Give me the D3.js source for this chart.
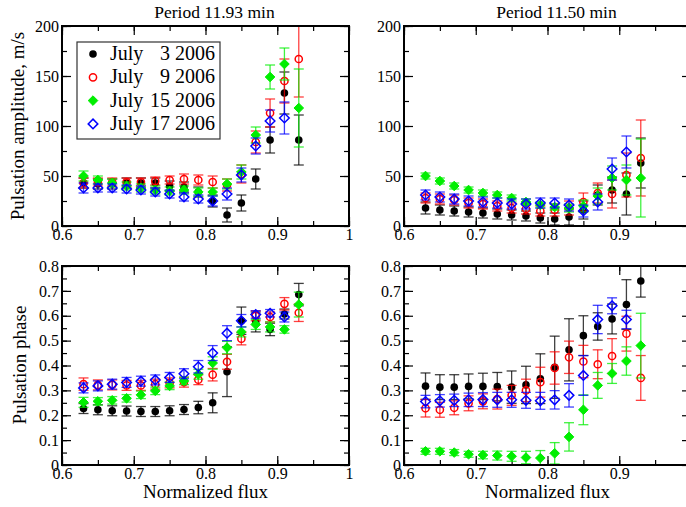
<!DOCTYPE html>
<html>
<head>
<meta charset="utf-8">
<script src="https://cdn.jsdelivr.net/npm/d3@7"></script>
<style>
  body { margin: 0; background: #fff; }
  svg text { font-family: "Liberation Serif", "Times New Roman", serif !important; }
</style>
</head>
<body>
<div id="chart"></div>
<script>
// normalized flux bins
const flux = [0.63, 0.65, 0.67, 0.69, 0.71, 0.73, 0.75, 0.77, 0.79, 0.81, 0.83, 0.85, 0.87, 0.89, 0.91, 0.93];
const seriesNames = ["July   3 2006", "July   9 2006", "July 15 2006", "July 17 2006"];
const titles = ["Period 11.93 min", "Period 11.50 min"];

// amplitude, period 11.93 min
const ampA_jul3  = [43, 42, 42, 43, 43, 43, 40, 39, 34, 25, 11, 23, 47, 86, 133, 86];
const ampA_jul3e = [5, 5, 5, 5, 5, 5, 5, 5, 5, 6, 7, 8, 10, 13, 21, 25];
const ampA_jul9  = [43, 44, 44, 44, 44, 45, 46, 47, 46, 44, 41, 52, 84, 113, 145, 167];
const ampA_jul9e = [5, 4, 4, 4, 4, 4, 4, 5, 5, 6, 6, 9, 11, 14, 22, 38];
const ampA_jul15  = [50, 46, 43, 40, 38, 36, 35, 36, 34, 34, 42, 54, 91, 149, 162, 118];
const ampA_jul15e = [5, 4, 4, 4, 4, 4, 4, 4, 4, 4, 5, 7, 8, 12, 16, 39];
const ampA_jul17  = [38, 38, 38, 37, 36, 34, 32, 29, 27, 25, 32, 51, 80, 105, 108, null];
const ampA_jul17e = [5, 4, 4, 4, 4, 4, 4, 4, 4, 5, 6, 7, 8, 11, 16, null];

// amplitude, period 11.50 min
const ampB_jul3  = [18, 16, 15, 14, 13, 12, 11, 10, 8, 7, 9, 16, 31, 36, 32, 63];
const ampB_jul3e = [6, 5, 5, 5, 5, 5, 5, 5, 5, 6, 8, 9, 10, 13, 21, 25];
const ampB_jul9  = [28, 27, 26, 23, 22, 20, 18, 17, 15, 16, 18, 24, 33, 32, 51, 68];
const ampB_jul9e = [5, 5, 5, 5, 5, 5, 5, 5, 5, 6, 7, 9, 10, 14, 22, 38];
const ampB_jul15  = [50, 45, 40, 36, 33, 31, 28, 24, 21, 19, 18, 20, 30, 48, 46, 48];
const ampB_jul15e = [3, 3, 3, 3, 3, 3, 3, 3, 3, 3, 4, 6, 8, 12, 15, 39];
const ampB_jul17  = [31, 29, 27, 25, 24, 23, 22, 22, 23, 23, 21, 15, 24, 57, 74, null];
const ampB_jul17e = [5, 5, 5, 5, 5, 5, 5, 5, 5, 5, 6, 6, 8, 11, 16, null];

// phase, period 11.93 min
const phA_jul3  = [0.227, 0.222, 0.218, 0.217, 0.215, 0.215, 0.218, 0.223, 0.231, 0.25, 0.375, 0.58, 0.575, 0.545, 0.607, 0.685];
const phA_jul3e = [0.02, 0.02, 0.02, 0.02, 0.02, 0.02, 0.02, 0.02, 0.025, 0.04, 0.1, 0.055, 0.04, 0.025, 0.02, 0.045];
const phA_jul9  = [0.325, 0.322, 0.322, 0.32, 0.32, 0.325, 0.33, 0.333, 0.343, 0.363, 0.415, 0.508, 0.6, 0.595, 0.648, 0.612];
const phA_jul9e = [0.025, 0.02, 0.02, 0.02, 0.02, 0.02, 0.02, 0.02, 0.02, 0.025, 0.03, 0.025, 0.02, 0.02, 0.025, 0.035];
const phA_jul15  = [0.252, 0.256, 0.26, 0.268, 0.282, 0.298, 0.318, 0.338, 0.365, 0.41, 0.472, 0.535, 0.565, 0.555, 0.545, 0.645];
const phA_jul15e = [0.02, 0.015, 0.015, 0.015, 0.015, 0.015, 0.015, 0.015, 0.02, 0.025, 0.025, 0.02, 0.02, 0.02, 0.015, 0.05];
const phA_jul17  = [0.31, 0.318, 0.325, 0.332, 0.337, 0.342, 0.352, 0.367, 0.395, 0.45, 0.53, 0.58, 0.605, 0.61, 0.595, null];
const phA_jul17e = [0.02, 0.02, 0.02, 0.02, 0.02, 0.02, 0.02, 0.02, 0.025, 0.03, 0.03, 0.025, 0.015, 0.015, 0.02, null];

// phase, period 11.50 min
const phB_jul3  = [0.317, 0.313, 0.313, 0.316, 0.316, 0.315, 0.313, 0.322, 0.347, 0.393, 0.463, 0.52, 0.557, 0.587, 0.645, 0.74];
const phB_jul3e = [0.053, 0.05, 0.05, 0.05, 0.053, 0.057, 0.065, 0.075, 0.1, 0.125, 0.125, 0.08, 0.055, 0.06, 0.1, 0.065];
const phB_jul9  = [0.228, 0.222, 0.23, 0.248, 0.256, 0.265, 0.28, 0.3, 0.333, 0.39, 0.433, 0.416, 0.405, 0.438, 0.528, 0.35];
const phB_jul9e = [0.035, 0.03, 0.028, 0.03, 0.03, 0.04, 0.04, 0.045, 0.06, 0.065, 0.065, 0.065, 0.058, 0.07, 0.07, 0.09];
const phB_jul15  = [0.055, 0.055, 0.05, 0.043, 0.04, 0.038, 0.035, 0.03, 0.028, 0.047, 0.113, 0.222, 0.32, 0.368, 0.418, 0.48];
const phB_jul15e = [0.012, 0.012, 0.012, 0.012, 0.015, 0.018, 0.02, 0.025, 0.03, 0.043, 0.057, 0.06, 0.052, 0.04, 0.057, 0.13];
const phB_jul17  = [0.255, 0.258, 0.26, 0.262, 0.263, 0.262, 0.262, 0.26, 0.258, 0.262, 0.28, 0.36, 0.585, 0.64, 0.585, null];
const phB_jul17e = [0.025, 0.025, 0.025, 0.027, 0.028, 0.03, 0.03, 0.032, 0.034, 0.037, 0.047, 0.08, 0.057, 0.032, 0.037, null];

const xTicks = [0.6, 0.7, 0.8, 0.9, 1];
const ampTicks = [0, 50, 100, 150, 200];
const phTicks = [0, 0.1, 0.2, 0.3, 0.4, 0.5, 0.6, 0.7, 0.8];

document.addEventListener("DOMContentLoaded", function () {
  const width = 686, height = 507;
  const svg = d3.select("#chart").append("svg")
    .attr("width", width).attr("height", height);

  const colors = ["#000000", "#ff0000", "#00ee00", "#0000ff"];
  const cols = [62, 404], pw = 287;
  const rows = [{ top: 26, h: 200 }, { top: 266, h: 199 }];

  const panels = [
    { r: 0, c: 0, dom: [0, 200], ticks: ampTicks, minor: 25, fmt: d3.format("d"),
      ser: [[ampA_jul3, ampA_jul3e], [ampA_jul9, ampA_jul9e], [ampA_jul15, ampA_jul15e], [ampA_jul17, ampA_jul17e]] },
    { r: 0, c: 1, dom: [0, 200], ticks: ampTicks, minor: 25, fmt: d3.format("d"),
      ser: [[ampB_jul3, ampB_jul3e], [ampB_jul9, ampB_jul9e], [ampB_jul15, ampB_jul15e], [ampB_jul17, ampB_jul17e]] },
    { r: 1, c: 0, dom: [0, 0.8], ticks: phTicks, minor: 0.05, fmt: d => d === 0 ? "0" : d3.format(".1f")(d),
      ser: [[phA_jul3, phA_jul3e], [phA_jul9, phA_jul9e], [phA_jul15, phA_jul15e], [phA_jul17, phA_jul17e]] },
    { r: 1, c: 1, dom: [0, 0.8], ticks: phTicks, minor: 0.05, fmt: d => d === 0 ? "0" : d3.format(".1f")(d),
      ser: [[phB_jul3, phB_jul3e], [phB_jul9, phB_jul9e], [phB_jul15, phB_jul15e], [phB_jul17, phB_jul17e]] }
  ];

  panels.forEach((p, pi) => {
    const left = cols[p.c], top = rows[p.r].top, ph = rows[p.r].h;
    const g = svg.append("g").attr("transform", `translate(${left},${top})`);
    const x = d3.scaleLinear().domain([0.6, 1]).range([0, pw]);
    const y = d3.scaleLinear().domain(p.dom).range([ph, 0]);

    const xMinor = d3.range(0.6, 1.0001, 0.05);
    const yMinor = d3.range(p.dom[0], p.dom[1] * 1.0001, p.minor);

    // minor ticks on all sides
    const minorAxes = [
      [d3.axisBottom(x).tickValues(xMinor), `translate(0,${ph})`],
      [d3.axisTop(x).tickValues(xMinor), null],
      [d3.axisLeft(y).tickValues(yMinor), null],
      [d3.axisRight(y).tickValues(yMinor), `translate(${pw},0)`]
    ];
    minorAxes.forEach(([ax, tr]) => {
      const a = g.append("g").call(ax.tickSize(-5).tickFormat(""));
      if (tr) a.attr("transform", tr);
    });
    // major ticks
    const xb = g.append("g").attr("transform", `translate(0,${ph})`)
      .call(d3.axisBottom(x).tickValues(xTicks).tickSize(-9).tickPadding(3)
        .tickFormat(d => d === 1 ? "1" : d3.format(".1f")(d)));
    g.append("g").call(d3.axisTop(x).tickValues(xTicks).tickSize(-9).tickFormat(""));
    const yl = g.append("g")
      .call(d3.axisLeft(y).tickValues(p.ticks).tickSize(-9).tickPadding(3).tickFormat(p.fmt));
    g.append("g").attr("transform", `translate(${pw},0)`)
      .call(d3.axisRight(y).tickValues(p.ticks).tickSize(-9).tickFormat(""));

    g.selectAll(".domain").remove();
    g.selectAll("g").attr("font-family", null);
    g.selectAll(".tick line").attr("stroke", "#000").attr("stroke-width", 1.2);
    xb.selectAll("text").attr("font-size", 16).attr("fill", "#000");
    yl.selectAll("text").attr("font-size", 16).attr("fill", "#000");

    // clip for data
    const cid = "clip" + pi;
    g.append("clipPath").attr("id", cid).append("rect")
      .attr("width", pw).attr("height", ph);
    const dg = g.append("g").attr("clip-path", `url(#${cid})`);

    p.ser.forEach(([vals, errs], si) => {
      const col = colors[si];
      const pts = flux.map((f, i) => ({ f, v: vals[i], e: errs[i] })).filter(d => d.v != null);
      const sg = dg.append("g");
      const eb = sg.append("g").attr("stroke", col).attr("stroke-width", 1.3).attr("stroke-opacity", 0.75);
      pts.forEach(d => {
        const cx = x(d.f), y0 = y(d.v - d.e), y1 = y(d.v + d.e);
        eb.append("line").attr("x1", cx).attr("x2", cx).attr("y1", y0).attr("y2", y1);
        eb.append("line").attr("x1", cx - 5).attr("x2", cx + 5).attr("y1", y0).attr("y2", y0);
        eb.append("line").attr("x1", cx - 5).attr("x2", cx + 5).attr("y1", y1).attr("y2", y1);
      });
      pts.forEach(d => drawMarker(sg, si, x(d.f), y(d.v)));
    });

    // frame
    g.append("rect").attr("width", pw).attr("height", ph)
      .attr("fill", "none").attr("stroke", "#000").attr("stroke-width", 2);

    if (p.r === 0) {
      svg.append("text").attr("x", left + pw / 2 + 9).attr("y", 18)
        .attr("text-anchor", "middle").attr("font-size", 17.5).text(titles[p.c]);
    } else {
      svg.append("text").attr("x", left + pw / 2).attr("y", 498)
        .attr("text-anchor", "middle").attr("font-size", 19).text("Normalized flux");
    }
  });

  function drawMarker(sel, si, cx, cy) {
    const col = colors[si];
    if (si === 0) {
      sel.append("circle").attr("cx", cx).attr("cy", cy).attr("r", 3.8).attr("fill", col);
    } else if (si === 1) {
      sel.append("circle").attr("cx", cx).attr("cy", cy).attr("r", 3.6)
        .attr("fill", "none").attr("stroke", col).attr("stroke-width", 1.5);
    } else {
      const s = 4.8;
      sel.append("path").attr("d", `M${cx},${cy - s}L${cx + s},${cy}L${cx},${cy + s}L${cx - s},${cy}Z`)
        .attr("fill", si === 2 ? col : "none").attr("stroke", col)
        .attr("stroke-width", si === 2 ? 1 : 1.5);
    }
  }

  // y titles
  svg.append("text").attr("transform", "translate(24,126) rotate(-90)")
    .attr("text-anchor", "middle").attr("font-size", 19).text("Pulsation amplitude, m/s");
  svg.append("text").attr("transform", "translate(26,365) rotate(-90)")
    .attr("text-anchor", "middle").attr("font-size", 19).text("Pulsation phase");

  // legend
  const lg = svg.append("g");
  lg.append("rect").attr("x", 77).attr("y", 42).attr("width", 143).attr("height", 97)
    .attr("fill", "#fff").attr("stroke", "#333").attr("stroke-width", 1.2);
  seriesNames.forEach((name, i) => {
    const cy = 54 + i * 23.3;
    drawMarker(lg, i, 93, cy);
    lg.append("text").attr("x", 110).attr("y", cy + 6).attr("font-size", 20).text("July");
    lg.append("text").attr("x", 215).attr("y", cy + 6).attr("text-anchor", "end")
      .attr("font-size", 20).text(name.replace(/^July\s+/, ""));
  });
});
</script>
</body>
</html>
